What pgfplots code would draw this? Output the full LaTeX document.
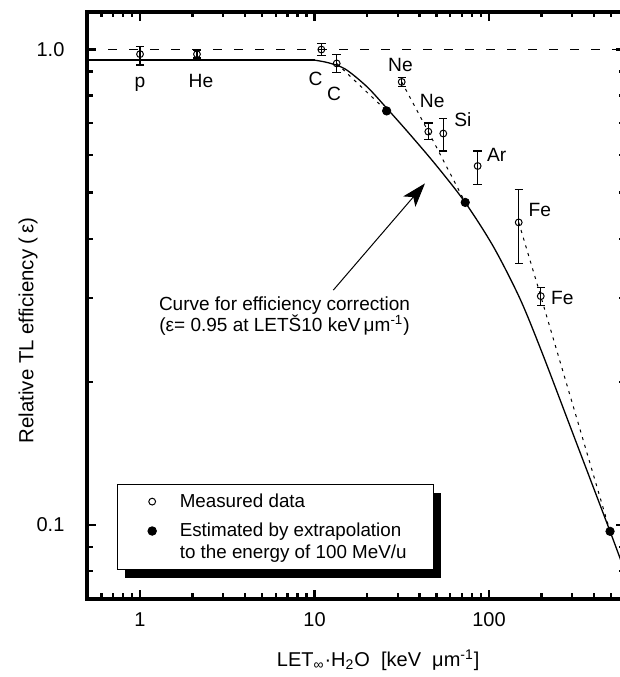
\documentclass[border=0pt]{standalone}
\usepackage{fontspec}
\setmainfont{Liberation Sans}
\usepackage{pgfplots}
\pgfplotsset{compat=1.18}
\usetikzlibrary{arrows.meta}

\pgfplotstableread{
x     y      ep     em
1.0   0.978  0.037  0.050
2.12  0.978  0.018  0.018
10.95 1.000  0.030  0.030
13.4  0.935  0.040  0.040
31.6  0.855  0.020  0.020
44.9  0.672  0.029  0.026
54.7  0.666  0.051  0.054
86.1  0.569  0.043  0.048
148   0.433  0.075  0.078
198   0.303  0.013  0.013
}\measured

\pgfplotstableread{
x     y
25.9  0.743
73.1  0.477
494   0.097
}\estimated

\begin{document}
\begin{tikzpicture}[font=\fontsize{9.6}{11.5}\selectfont]
\begin{axis}[
  at={(0,0)}, anchor=south west,
  scale only axis, width=268.65pt, height=293.4pt,
  xmode=log, ymode=log,
  xmin=0.5, xmax=600, ymin=0.07, ymax=1.2,
  axis line style={line width=2pt},
  tick align=inside,
  major tick length=4.5pt, minor tick length=2.75pt,
  tick style={black, line width=1.2pt},
  xtick={1,10,100}, xticklabels={1,10,100},
  minor xtick={0.6,0.7,0.8,0.9,2,3,4,5,6,7,8,9,20,30,40,50,60,70,80,90,200,300,400,500},
  ytick={0.1,1}, yticklabels={0.1,1.0},
  minor ytick={0.08,0.09,0.2,0.3,0.4,0.5,0.6,0.7,0.8,0.9},
  xticklabel style={font=\fontsize{10}{12}\selectfont, yshift=-3.5pt},
  yticklabel style={font=\fontsize{10}{12}\selectfont, xshift=-8pt},
  xlabel={LET\textsubscript{∞}·H\textsubscript{2}O\ \ [keV\ \ μm\textsuperscript{-1}]},
  xlabel style={at={(axis description cs:0.541,0)}, anchor=base, yshift=-34pt, font=\fontsize{10}{12}\selectfont},
  ylabel={Relative TL efficiency (\,ε)},
  ylabel style={at={(axis description cs:-0.1107,0.457)}, anchor=center, font=\fontsize{10.2}{12}\selectfont},
  legend cell align=left,
  legend style={at={(axis description cs:0.0543,0.0489)}, anchor=south west,
    draw=black, line width=0.5pt, fill=white,
    font=\fontsize{9.4}{10.8}\selectfont,
    inner xsep=4pt, inner ysep=1.1pt, row sep=0pt, column sep=0pt,
    nodes={inner sep=0pt, text height=10.2pt, text depth=4.5pt}},
]
% reference line at 1.0
\addplot[forget plot, line width=0.6pt, dash pattern=on 4.5pt off 6pt] coordinates {(0.5,1) (600,1)};
% efficiency correction curve
\addplot[forget plot, line width=0.65pt] coordinates {(0.5,0.95) (10,0.95)};
\addplot[forget plot, line width=0.65pt, smooth, tension=0.5] coordinates {
 (10,0.95) (12,0.938) (15,0.91) (20,0.835) (26,0.752) (35,0.665) (50,0.57)
 (73,0.477) (106,0.385) (150,0.30) (200,0.232) (300,0.157) (494,0.097) (600,0.080)};
% extrapolation lines
\addplot[forget plot, line width=0.5pt, dash pattern=on 1.5pt off 2.5pt] coordinates {(13.4,0.935) (25.9,0.743)};
\addplot[forget plot, line width=0.5pt, dash pattern=on 1.5pt off 2.5pt] coordinates {(31.6,0.855) (44.9,0.672) (73.1,0.477)};
\addplot[forget plot, line width=0.5pt, dash pattern=on 1.5pt off 2.5pt] coordinates {(148,0.433) (198,0.303) (494,0.097)};
% measured data
\addplot[forget plot, only marks, mark=o, mark size=1.7pt, mark options={line width=0.5pt},
  error bars/.cd, y dir=both, y explicit,
  error bar style={line width=0.6pt},
  error mark options={rotate=90, mark size=2.1pt, line width=0.6pt}]
  table[x=x, y=y, y error plus=ep, y error minus=em] {\measured};
% estimated
\addplot[forget plot, only marks, mark=*, mark size=2.1pt] table[x=x, y=y] {\estimated};

% legend shadow (drawn beneath the legend box)
\fill[black] ([xshift=4pt,yshift=-4pt]axis description cs:0.0543,0.0489) rectangle ++(158pt,42.4pt);

\addlegendimage{legend image code/.code={\pgfpathrectangle{\pgfpoint{0pt}{-2.8pt}}{\pgfpoint{27.3pt}{5.6pt}}\pgfusepath{use as bounding box}\draw[line width=0.5pt, fill=white] plot[only marks, mark=o, mark size=1.7pt] coordinates {(13.5pt,0pt)};}}
\addlegendentry{\makebox[122.7pt][l]{Measured data}}
\addlegendimage{legend image code/.code={\pgfpathrectangle{\pgfpoint{0pt}{-2.8pt}}{\pgfpoint{27.3pt}{5.6pt}}\pgfusepath{use as bounding box}\draw[fill=black] plot[only marks, mark=*, mark size=2.1pt] coordinates {(13.5pt,0pt)};}}
\addlegendentry{\makebox[122.7pt][l]{Estimated by extrapolation}}
\addlegendimage{empty legend}
\addlegendentry[text height=6.3pt]{\makebox[122.7pt][l]{to the energy of 100 MeV/u}}

% labels
\node[anchor=base] at (axis cs:1,0.831) {p};
\node[anchor=base] at (axis cs:2.236,0.831) {He};
\node[anchor=base] at (axis cs:10.13,0.8406) {C};
\node[anchor=base] at (axis cs:12.93,0.783) {C};
\node[anchor=base] at (axis cs:31.1,0.901) {Ne};
\node[anchor=base] at (axis cs:47.3,0.756) {Ne};
\node[anchor=base west, inner sep=0pt] at (axis cs:63.0,0.690) {Si};
\node[anchor=base west, inner sep=0pt] at (axis cs:97.0,0.581) {Ar};
\node[anchor=base west, inner sep=0pt] at (axis cs:168,0.4466) {Fe};
\node[anchor=base west, inner sep=0pt] at (axis cs:225.7,0.2916) {Fe};

\draw[line width=0.5pt, -{Stealth[length=12pt, width=8pt, inset=3pt]}] (axis cs:12.82,0.312) -- (axis cs:42.97,0.523);
\node[anchor=base, font=\fontsize{9.5}{11}\selectfont] at (axis cs:6.73,0.2833) {Curve for efficiency correction};
\node[anchor=base, font=\fontsize{9.5}{11}\selectfont] at (axis cs:6.73,0.2550) {(ε= 0.95 at LETŠ10 keV\,μm\textsuperscript{-1})};
\end{axis}
\pgfresetboundingbox
\useasboundingbox (-43.75pt,-39.15pt) rectangle (266.25pt,299.35pt);
\end{tikzpicture}
\end{document}
